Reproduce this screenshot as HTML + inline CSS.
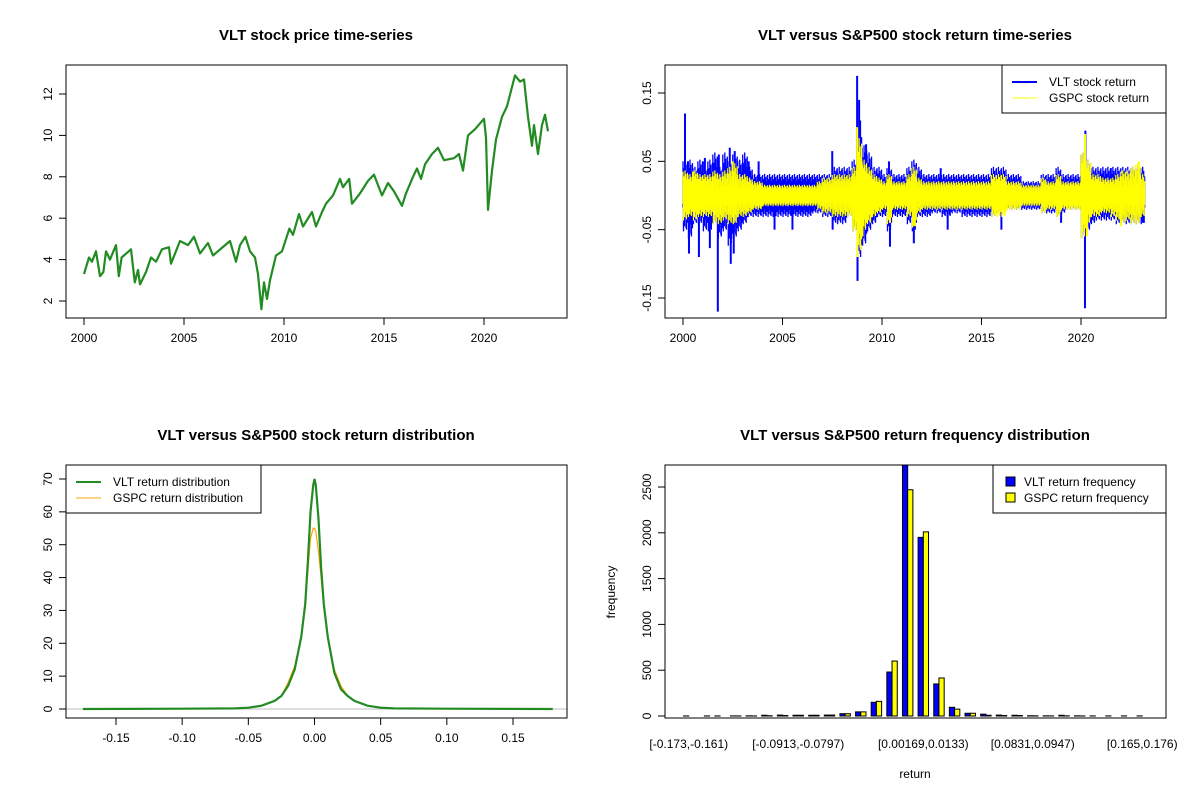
<!DOCTYPE html>
<html><head><meta charset="utf-8"><style>
body{margin:0;background:#fff;}
svg{display:block;font-family:"Liberation Sans",Arial,sans-serif;}
</style></head><body>
<svg id="s" width="1200" height="800" xmlns="http://www.w3.org/2000/svg"></svg>
<script>
// ---------- DATA ----------
const priceYears=[2000,2000.25,2000.4,2000.6,2000.8,2000.97,2001.1,2001.3,2001.6,2001.74,2001.88,2002.35,2002.54,2002.7,2002.8,2003.1,2003.35,2003.6,2003.9,2004.25,2004.35,2004.8,2005.2,2005.5,2005.8,2006.2,2006.45,2007.3,2007.6,2007.8,2008.07,2008.3,2008.55,2008.7,2008.87,2009.0,2009.15,2009.3,2009.6,2009.9,2010.27,2010.45,2010.75,2010.95,2011.4,2011.6,2011.9,2012.1,2012.45,2012.8,2012.95,2013.26,2013.4,2013.8,2014.2,2014.5,2014.9,2015.2,2015.5,2015.9,2016.1,2016.45,2016.65,2016.85,2017.05,2017.4,2017.7,2018.0,2018.5,2018.75,2018.95,2019.2,2019.55,2020.0,2020.1,2020.2,2020.4,2020.6,2020.9,2021.15,2021.55,2021.8,2022.0,2022.2,2022.4,2022.5,2022.7,2022.9,2023.05,2023.2];
const priceVals=[3.3,4.1,3.9,4.4,3.2,3.4,4.4,4.0,4.7,3.2,4.1,4.5,2.9,3.5,2.8,3.4,4.1,3.9,4.5,4.6,3.8,4.9,4.7,5.1,4.3,4.8,4.2,4.9,3.9,4.7,5.1,4.4,4.1,3.3,1.6,2.9,2.1,3.0,4.2,4.4,5.5,5.2,6.2,5.6,6.3,5.6,6.3,6.7,7.1,7.9,7.5,7.9,6.7,7.2,7.8,8.1,7.1,7.7,7.3,6.6,7.2,8.0,8.4,7.9,8.6,9.1,9.4,8.8,8.9,9.1,8.3,10.0,10.3,10.8,9.9,6.4,8.3,9.8,10.9,11.4,12.9,12.6,12.7,10.9,9.5,10.5,9.1,10.5,11.0,10.2];
const priceXTicks=[2000,2005,2010,2015,2020];
const priceYTicks=[2,4,6,8,10,12];

// quarterly return envelopes, one line per year 2000..2023
const vltHi=[
.05,.05,.04,.05, //2000
.04,.05,.06,.04, //2001
.06,.05,.06,.05, //2002
.06,.04,.03,.03, //2003
.03,.03,.03,.03, //2004
.03,.03,.03,.03, //2005
.03,.03,.03,.03, //2006
.03,.03,.04,.04, //2007
.04,.04,.05,.09, //2008
.07,.06,.04,.04, //2009
.03,.04,.03,.03, //2010
.03,.04,.05,.04, //2011
.03,.03,.03,.03, //2012
.03,.03,.03,.03, //2013
.03,.03,.03,.03, //2014
.03,.03,.04,.04, //2015
.04,.03,.03,.03, //2016
.02,.02,.02,.02, //2017
.03,.03,.03,.04, //2018
.03,.03,.03,.03, //2019
.06,.05,.04,.04, //2020
.04,.04,.04,.04, //2021
.04,.04,.04,.04, //2022
.04];            //2023
const vltLo=[
-.05,-.06,-.04,-.04, //2000
-.05,-.05,-.04,-.06, //2001
-.05,-.07,-.06,-.05, //2002
-.04,-.03,-.03,-.03, //2003
-.03,-.03,-.03,-.03, //2004
-.03,-.03,-.03,-.03, //2005
-.03,-.03,-.025,-.025, //2006
-.03,-.03,-.04,-.04, //2007
-.04,-.03,-.05,-.09, //2008
-.07,-.05,-.04,-.03, //2009
-.03,-.05,-.03,-.03, //2010
-.03,-.04,-.05,-.03, //2011
-.03,-.03,-.025,-.025, //2012
-.03,-.03,-.025,-.025, //2013
-.03,-.03,-.03,-.03, //2014
-.03,-.03,-.03,-.025, //2015
-.02,-.02,-.02,-.02, //2016
-.02,-.02,-.02,-.02, //2017
-.025,-.025,-.025,-.03, //2018
-.025,-.02,-.02,-.02, //2019
-.06,-.05,-.04,-.035, //2020
-.035,-.035,-.035,-.04, //2021
-.04,-.04,-.04,-.04, //2022
-.04];               //2023
const gspcHi=[
.035,.03,.035,.03, //2000
.03,.03,.035,.03, //2001
.035,.04,.045,.03, //2002
.03,.025,.02,.02, //2003
.015,.015,.015,.015, //2004
.015,.015,.015,.015, //2005
.015,.015,.015,.02, //2006
.025,.025,.03,.03, //2007
.03,.03,.04,.08, //2008
.05,.04,.03,.025, //2009
.02,.03,.02,.02, //2010
.02,.03,.04,.025, //2011
.02,.02,.02,.02, //2012
.02,.02,.02,.02, //2013
.02,.02,.02,.02, //2014
.02,.02,.03,.03, //2015
.03,.02,.02,.02, //2016
.015,.015,.015,.015, //2017
.025,.02,.02,.03, //2018
.02,.02,.02,.02, //2019
.06,.05,.03,.03, //2020
.025,.025,.025,.03, //2021
.035,.035,.04,.045, //2022
.03];              //2023
const gspcLo=[
-.035,-.03,-.035,-.03, //2000
-.03,-.03,-.04,-.04, //2001
-.035,-.04,-.04,-.03, //2002
-.03,-.025,-.02,-.02, //2003
-.015,-.015,-.015,-.015, //2004
-.015,-.015,-.015,-.015, //2005
-.015,-.015,-.015,-.02, //2006
-.025,-.025,-.03,-.03, //2007
-.03,-.03,-.05,-.08, //2008
-.05,-.04,-.03,-.025, //2009
-.02,-.04,-.02,-.02, //2010
-.02,-.03,-.045,-.025, //2011
-.02,-.02,-.02,-.02, //2012
-.02,-.02,-.02,-.02, //2013
-.02,-.02,-.02,-.02, //2014
-.02,-.02,-.03,-.03, //2015
-.03,-.02,-.02,-.02, //2016
-.015,-.015,-.015,-.015, //2017
-.025,-.02,-.02,-.03, //2018
-.02,-.02,-.02,-.02, //2019
-.06,-.04,-.03,-.03, //2020
-.025,-.025,-.03,-.035, //2021
-.04,-.035,-.04,-.04, //2022
-.03];                 //2023
const vltSpikeYears=[2000.1,2000.25,2000.3,2000.8,2001.0,2001.1,2001.35,2001.75,2001.8,2002.35,2002.4,2002.55,2002.6,2003.3,2003.8,2004.6,2005.5,2007.5,2007.52,2008.75,2008.77,2008.85,2008.9,2009.0,2009.2,2010.35,2010.4,2011.6,2012.95,2013.3,2016.0,2019.0,2020.2,2020.22,2021.5,2023.1];
const vltSpikeVals=[.12,.05,-.085,-.09,.05,.055,-.077,-.17,.06,.07,-.1,-.085,.065,.05,.05,-.05,-.05,.065,-.05,.175,-.125,.14,.11,-.06,.075,.05,-.075,-.07,.04,-.05,-.05,-.04,-.165,.095,.04,-.04];
const gspcSpikeYears=[2008.75,2008.77,2009.0,2009.02,2020.2,2020.22,2020.3,2000.5,2002.5,2002.55,2011.6,2022.9,2010.4,2022.0];
const gspcSpikeVals=[.1,-.09,.045,-.06,.09,-.045,-.06,.035,.05,-.04,-.045,.05,-.04,-.045];
const retXTicks=[2000,2005,2010,2015,2020];
const retYTicks=[-0.15,-0.05,0.05,0.15];

const densX=[-0.175,-0.1,-0.06,-0.05,-0.04,-0.03,-0.025,-0.02,-0.015,-0.01,-0.007,-0.005,-0.003,-0.001,0,0.001,0.003,0.005,0.007,0.01,0.015,0.02,0.025,0.03,0.04,0.05,0.06,0.1,0.18];
const densVLT=[0,0.1,0.2,0.4,1,2.5,4,7,12,22,32,45,60,68,70,68,58,43,32,22,11,6,4,2.5,1,0.4,0.2,0.1,0];
const densGSPC=[0,0.1,0.2,0.4,1,2.5,4,8,13,22,31,42,52,55,55,54,48,40,31,22,12,7,4,2.5,1,0.3,0.1,0.1,0];
const densXTicks=[-0.15,-0.10,-0.05,0.00,0.05,0.10,0.15];
const densYTicks=[0,10,20,30,40,50,60,70];

const binLabels=["[-0.173,-0.161)","","","","","","","[-0.0913,-0.0797)","","","","","","","","[0.00169,0.0133)","","","","","","","[0.0831,0.0947)","","","","","","","[0.165,0.176)"];
const freqVLT=[1,0,1,1,2,8,10,8,8,10,25,45,150,480,2750,1950,350,95,30,20,10,8,3,2,8,2,1,1,1,1];
const freqGSPC=[0,1,0,1,1,3,5,8,8,10,25,45,160,600,2470,2010,415,75,30,8,5,5,2,1,2,1,0,0,0,0];
const freqYTicks=[0,500,1000,1500,2000,2500];

// ---------- HELPERS ----------
const S=document.getElementById('s');
const NS='http://www.w3.org/2000/svg';
function mk(tag,attrs,parent,text){const e=document.createElementNS(NS,tag);for(const k in attrs)e.setAttribute(k,attrs[k]);if(text!==undefined)e.textContent=text;(parent||S).appendChild(e);return e;}
function lin(d0,d1,r0,r1){return v=>r0+(v-d0)*(r1-r0)/(d1-d0);}
function grp(name){const g=mk('g',{});return g;}
function frame(g,x0,y0,x1,y1){const r=mk('rect',{x:x0,y:y0,width:x1-x0,height:y1-y0,fill:'none',stroke:'#000','stroke-width':1},g);}
function title(g,x,y,t){const e=mk('text',{x:x,y:y,'text-anchor':'middle','font-size':15,'font-weight':'bold'},g,t);}
function xAxis(g,ticks,X,y,fmt){const a=grp('x-axis');g.appendChild(a);mk('line',{x1:X(ticks[0]),x2:X(ticks[ticks.length-1]),y1:y,y2:y,stroke:'#000'},a);ticks.forEach(t=>{mk('line',{x1:X(t),x2:X(t),y1:y,y2:y+7,stroke:'#000'},a);const e=mk('text',{x:X(t),y:y+24,'text-anchor':'middle','font-size':12},a,fmt(t));});}
function yAxis(g,ticks,Y,x,fmt){const a=grp('y-axis');g.appendChild(a);mk('line',{x1:x,x2:x,y1:Y(ticks[0]),y2:Y(ticks[ticks.length-1]),stroke:'#000'},a);ticks.forEach(t=>{mk('line',{x1:x-7,x2:x,y1:Y(t),y2:Y(t),stroke:'#000'},a);const e=mk('text',{x:x-14,y:Y(t),'text-anchor':'middle','font-size':12,transform:`rotate(-90 ${x-14} ${Y(t)})`},a,fmt(t));});}
function legend(g,x0,y0,x1,y1,items){const L=grp('legend');g.appendChild(L);mk('rect',{x:x0,y:y0,width:x1-x0,height:y1-y0,fill:'#fff',stroke:'#000'},L);items.forEach((it,i)=>{const yy=y0+17+i*16;const en=grp('legend-entry');L.appendChild(en);if(it.box){mk('rect',{x:x0+13,y:yy-5,width:9,height:9,fill:it.color,stroke:'#000'},en);}else{mk('line',{x1:x0+10,x2:x0+35,y1:yy,y2:yy,stroke:it.color,'stroke-width':it.w},en);}mk('text',{x:x0+(it.box?31:47),y:yy+4,'font-size':12},en,it.t);});}

// ---------- PANEL 1: price ----------
(function(){const g=grp('price-panel');S.appendChild(g);
const X=lin(2000,2020,84,484),Y=lin(2,12,301,94);
title(g,316,40,'VLT stock price time-series');
const pts=priceYears.map((yr,i)=>X(yr).toFixed(1)+','+Y(priceVals[i]).toFixed(1)).join(' ');
const l=mk('polyline',{points:pts,fill:'none',stroke:'#228B22','stroke-width':2.2,'stroke-linejoin':'round'},g);

frame(g,66,65,567,318);xAxis(g,priceXTicks,X,318,t=>t);yAxis(g,priceYTicks,Y,66,t=>t);})();

// ---------- PANEL 2: returns ----------
(function(){const g=grp('return-panel');S.appendChild(g);
const X=lin(2000,2020,683,1081),Y=lin(-0.15,0.15,298,93);
title(g,915,40,'VLT versus S&P500 stock return time-series');
const clip=mk('clipPath',{id:'c2'},g);mk('rect',{x:666,y:66,width:499,height:251},clip);
const texture=[1,0.45,0.8,0.35,1.05,0.6,0.9,0.4,0.7,0.95];
function band(hi,lo,spY,spV,col,name,w){const b=grp(name);b.setAttribute('clip-path','url(#c2)');g.appendChild(b);
 const n=Math.min(hi.length,lo.length);
 for(let i=0;i<n;i++){const yr=2000+i*0.25;
  for(let k=0;k<10;k++){const t=yr+k*0.025;if(t>2023.2)break;const x=X(t);const fa=texture[k],fb=texture[(k+3)%10];
   mk('line',{x1:x,x2:x,y1:Y(hi[i]*fa),y2:Y(lo[i]*fb),stroke:col,'stroke-width':w},b);}}
 spY.forEach((yr,i)=>{const s=mk('line',{x1:X(yr),x2:X(yr),y1:Y(0),y2:Y(spV[i]),stroke:col,'stroke-width':2},b);});}
band(vltHi,vltLo,vltSpikeYears,vltSpikeVals,'#0000ff','vlt-return-series',1.3);
band(gspcHi,gspcLo,gspcSpikeYears,gspcSpikeVals,'#ffff00','gspc-return-series',1.2);
frame(g,665,65,1166,318);xAxis(g,retXTicks,X,318,t=>t);yAxis(g,retYTicks,Y,665,t=>t.toFixed(2));
legend(g,1002,65,1166,113,[{t:'VLT stock return',color:'#0000ff',w:2},{t:'GSPC stock return',color:'#ffff00',w:1}]);})();

// ---------- PANEL 3: density ----------
(function(){const g=grp('density-panel');S.appendChild(g);
const X=lin(-0.15,0.15,116,513),Y=lin(0,70,709,479);
title(g,316,440,'VLT versus S&P500 stock return distribution');
mk('line',{x1:66,x2:567,y1:Y(0),y2:Y(0),stroke:'#bebebe'},g);
const p1=mk('polyline',{points:densX.map((x,i)=>X(x)+','+Y(densGSPC[i])).join(' '),fill:'none',stroke:'#FFA500','stroke-width':1.2},g);

const p2=mk('polyline',{points:densX.map((x,i)=>X(x)+','+Y(densVLT[i])).join(' '),fill:'none',stroke:'#228B22','stroke-width':2.2},g);

frame(g,66,465,567,718);xAxis(g,densXTicks,X,718,t=>t.toFixed(2));yAxis(g,densYTicks,Y,66,t=>t);
legend(g,66,465,261,513,[{t:'VLT return distribution',color:'#228B22',w:2},{t:'GSPC return distribution',color:'#FFA500',w:1}]);})();

// ---------- PANEL 4: frequency ----------
(function(){const g=grp('frequency-panel');S.appendChild(g);
const U=lin(-2.56,93.56,665,1166),Y=lin(0,2500,716,487);
title(g,915,440,'VLT versus S&P500 return frequency distribution');
const clip=mk('clipPath',{id:'c4'},g);mk('rect',{x:665,y:465,width:501,height:253},clip);
const bars=grp('bars');bars.setAttribute('clip-path','url(#c4)');g.appendChild(bars);
freqVLT.forEach((v,i)=>{const x=U(1+3*i);const b=mk('rect',{x:x,y:Y(v),width:U(2)-U(1),height:Y(0)-Y(v),fill:'#0000ff',stroke:'#000','stroke-width':1},bars);});
freqGSPC.forEach((v,i)=>{const x=U(2+3*i);const b=mk('rect',{x:x,y:Y(v),width:U(2)-U(1),height:Y(0)-Y(v),fill:'#ffff00',stroke:'#000','stroke-width':1},bars);});
frame(g,665,465,1166,718);
binLabels.forEach((l,i)=>{if(l){const e=mk('text',{x:U(2+3*i),y:748,'text-anchor':'middle','font-size':12},g,l);}});
yAxis(g,freqYTicks,Y,665,t=>t);
const xl=mk('text',{x:915,y:778,'text-anchor':'middle','font-size':12},g,'return');
const yl=mk('text',{x:615,y:592,'text-anchor':'middle','font-size':12,transform:'rotate(-90 615 592)'},g,'frequency');
legend(g,993,465,1166,513,[{t:'VLT return frequency',color:'#0000ff',box:true},{t:'GSPC return frequency',color:'#ffff00',box:true}]);})();
</script>
</body></html>
